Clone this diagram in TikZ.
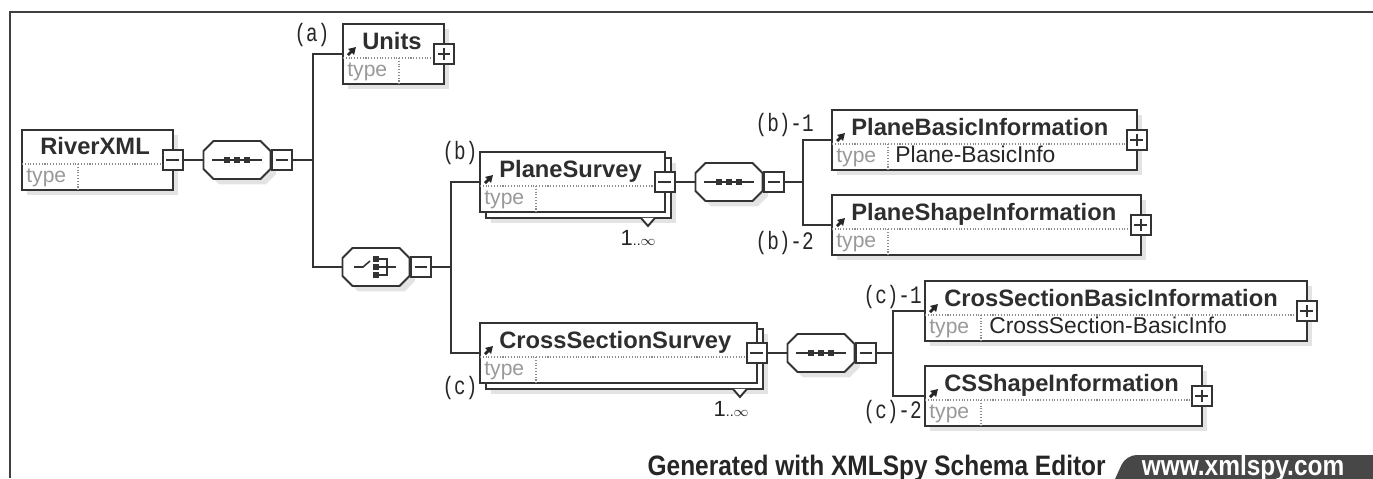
\documentclass[tikz,border=0pt]{standalone}
\usepackage{fontspec}
\setmainfont{Liberation Sans}
\setmonofont{Liberation Mono}
\usetikzlibrary{positioning}
\usetikzlibrary{shadows}
\usetikzlibrary{arrows.meta}

\begin{document}
\begin{tikzpicture}[x=0.02cm, y=-0.02cm,
  line/.style={draw=black!80, line width=1.1pt},
  shade/.style={drop shadow={shadow xshift=3pt, shadow yshift=-3pt, fill=black!22}},
  elem/.style={line, fill=white, rectangle, anchor=north west, minimum height=1.2cm, inner sep=0pt, outer sep=0pt},
  comp/.style={rectangle, minimum width=1.34cm, minimum height=0.76cm, inner sep=0pt, outer sep=0pt},
  minusbox/.style={line, fill=white, minimum size=0.4cm, inner sep=0pt, outer sep=0pt,
    path picture={\draw[black!80, line width=0.9pt] ([xshift=2pt]path picture bounding box.west) -- ([xshift=-2pt]path picture bounding box.east);}},
  plusbox/.style={line, fill=white, minimum size=0.4cm, inner sep=0pt, outer sep=0pt,
    path picture={\draw[black!80, line width=0.9pt] ([xshift=2pt]path picture bounding box.west) -- ([xshift=-2pt]path picture bounding box.east)
      ([yshift=-2pt]path picture bounding box.north) -- ([yshift=2pt]path picture bounding box.south);}},
  divider/.style={draw=black!45, densely dotted, line width=0.6pt},
  title/.style={font=\fontsize{13.5}{16}\selectfont\bfseries, text=black!82, inner sep=0pt, anchor=base west},
  typelbl/.style={font=\fontsize{12}{14}\selectfont, text=black!40, inner sep=0pt, anchor=base west},
  typeval/.style={font=\fontsize{13}{15}\selectfont, text=black!85, inner sep=0pt, anchor=base west},
  tag/.style={font=\ttfamily\fontsize{11}{13}\selectfont, text=black!85, inner sep=0pt},
  mult/.style={font=\fontsize{12.5}{14}\selectfont, text=black!85, inner sep=0pt, anchor=north east},
  icon/.style={draw=black!85, line width=1.6pt, -{Triangle[length=4pt,width=4.6pt]}},
  frame/.style={draw=black!75, line width=1.2pt},
  footer/.style={font=\fontsize{16}{18}\selectfont\bfseries, text=black!85, inner sep=0pt}
]
\useasboundingbox (0,0) rectangle (1373,478);
% \draw [help lines] (0,0) grid[step=50] (1373,478);
\draw [frame] (10,478) -- (10,12) -- (1373,12);

% element boxes
\node [elem, shade, minimum width=3.02cm] (river) at (22,130) {};
\node [elem, shade, minimum width=2.02cm] (units) at (343,24) {};
\node [elem, shade, minimum width=3.7cm] (ps-back) at (486,158) {};
\node [elem, minimum width=3.7cm] (ps) at (480,152) {};
\node [elem, shade, minimum width=5.54cm] (css-back) at (486,329) {};
\node [elem, minimum width=5.54cm] (css) at (480,323) {};
\node [elem, shade, minimum width=6.1cm] (pbi) at (832,110) {};
\node [elem, shade, minimum width=6.18cm] (psi) at (832,195) {};
\node [elem, shade, minimum width=7.64cm] (csbi) at (925,281) {};
\node [elem, shade, minimum width=5.54cm] (cssi) at (925,366) {};

% 1..oo notches
\foreach \b in {ps,css} {
  \draw [line, fill=white] ([shift={(-30,0)}]\b-back.south east) -- ++(7,8) -- ++(7,-8);
}
\node [mult] (ps-m) at ([shift={(-15,12)}]ps-back.south east) {1\footnotesize..$\infty$};
\node [mult] (css-m) at ([shift={(-14,12)}]css-back.south east) {1\footnotesize..$\infty$};

% name / type rows
\foreach \b in {river,units,ps,css,pbi,psi,csbi,cssi} {
  \draw [divider] ([shift={(0,34)}]\b.north west) -- ([shift={(0,34)}]\b.north east);
  \draw [divider] ([shift={(56,34)}]\b.north west) -- ([shift={(56,0)}]\b.south west);
  \node [typelbl] (\b-t) at ([shift={(4,52)}]\b.north west) {type};
}
\node [title] (river-n) at ([shift={(18,24)}]river.north west) {RiverXML};
\foreach \b/\t in {units/Units, ps/PlaneSurvey, css/CrossSectionSurvey,
    pbi/PlaneBasicInformation, psi/PlaneShapeInformation,
    csbi/CrosSectionBasicInformation, cssi/CSShapeInformation} {
  \node [title] (\b-n) at ([shift={(19,25)}]\b.north west) {\t};
  \draw [icon] ([shift={(5,31)}]\b.north west) -- ++(8,-8);
}
\node [typeval] (pbi-v) at ([shift={(63,52)}]pbi.north west) {Plane-BasicInfo};
\node [typeval] (csbi-v) at ([shift={(64,52)}]csbi.north west) {CrossSection-BasicInfo};

% compositors
\node [comp] (seq1) at (237,160) {};
\node [comp] (choice) at (376,267) {};
\node [comp] (seq2) at (729,182) {};
\node [comp] (seq3) at (821,353) {};
\foreach \s in {seq1,choice,seq2,seq3} {
  \draw [line, fill=white, shade] ([shift={(10,0)}]\s.north west) -- ([shift={(-10,0)}]\s.north east)
    -- ([shift={(0,10)}]\s.north east) -- ([shift={(0,-10)}]\s.south east)
    -- ([shift={(-10,0)}]\s.south east) -- ([shift={(10,0)}]\s.south west)
    -- ([shift={(0,-10)}]\s.south west) -- ([shift={(0,10)}]\s.north west) -- cycle;
}
\foreach \s in {seq1,seq2,seq3} {
  \draw [black!80, line width=0.9pt] ([xshift=-25*0.02cm]\s.center) -- ([xshift=25*0.02cm]\s.center);
  \foreach \d in {-10,0,10}
    \fill [black!80] ([shift={(\d,0)}]\s.center) +(-2.6,-2.6) rectangle +(2.6,2.6);
}
\draw [black!80, line width=0.9pt] ([shift={(-22,0)}]choice.center) -- ++(9,0) -- ++(7,-6);
\foreach \d in {-8,0,8}
  \fill [black!80] ([shift={(0,\d)}]choice.center) +(-3,-3) rectangle +(3,3);
\draw [black!80, line width=0.9pt] ([shift={(3,-8)}]choice.center) -- ++(8,0) -- ++(0,16) -- ++(-8,0)
  ([shift={(3,0)}]choice.center) -- ++(17,0);

% expand / collapse boxes
\node [minusbox] (river-x) at (river.east) {};
\node [plusbox] (units-x) at (units.east) {};
\node [minusbox] (ps-x) at (ps.east) {};
\node [minusbox] (css-x) at (css.east) {};
\node [plusbox] (pbi-x) at (pbi.east) {};
\node [plusbox] (psi-x) at (psi.east) {};
\node [plusbox] (csbi-x) at (csbi.east) {};
\node [plusbox] (cssi-x) at (cssi.east) {};
\node [minusbox, right=0.03cm of seq1] (seq1-x) {};
\node [minusbox, right=0.03cm of choice] (choice-x) {};
\node [minusbox, right=0.03cm of seq2] (seq2-x) {};
\node [minusbox, right=0.03cm of seq3] (seq3-x) {};

% connectors
\coordinate (j1) at (313,160);
\coordinate (j2) at (451,267);
\coordinate (j3) at (803,182);
\coordinate (j4) at (893,353);
\draw [line] (river-x.east) -- (seq1.west);
\draw [line] (seq1-x.east) -- (j1) |- (units.west);
\draw [line] (j1) |- (choice.west);
\draw [line] (choice-x.east) -- (j2) |- (ps.west);
\draw [line] (j2) |- (css.west);
\draw [line] (ps-x.east) -- (seq2.west);
\draw [line] (seq2-x.east) -- (j3) |- (pbi.west);
\draw [line] (j3) |- (psi.west);
\draw [line] (css-x.east) -- (seq3.west);
\draw [line] (seq3-x.east) -- (j4) |- (csbi.west);
\draw [line] (j4) |- (cssi.west);

% labels
\node [tag] (lab-a) at (312,35) {\scalebox{1}[1.3]{(a)}};
\node [tag] (lab-b) at (460,153) {\scalebox{1}[1.3]{(b)}};
\node [tag] (lab-c) at (460,388) {\scalebox{1}[1.3]{(c)}};
\node [tag, anchor=east] (lab-b1) at (814,125) {\scalebox{1}[1.3]{(b)-1}};
\node [tag, anchor=east] (lab-b2) at (814,243) {\scalebox{1}[1.3]{(b)-2}};
\node [tag, anchor=east] (lab-c1) at (922,297) {\scalebox{1}[1.3]{(c)-1}};
\node [tag, anchor=east] (lab-c2) at (922,412) {\scalebox{1}[1.3]{(c)-2}};

% footer
\node [footer, anchor=base east] (gen) at (1106,475) {\scalebox{0.87}[1]{Generated with XMLSpy Schema Editor}};
\fill [black!72, rounded corners=6pt] (1110,490) -- (1126,455) -- (1390,455) -- (1390,490) -- cycle;
\node [footer, text=white, anchor=base] (site) at (1243,475) {\scalebox{0.87}[1]{www.xmlspy.com}};
\end{tikzpicture}
\end{document}
